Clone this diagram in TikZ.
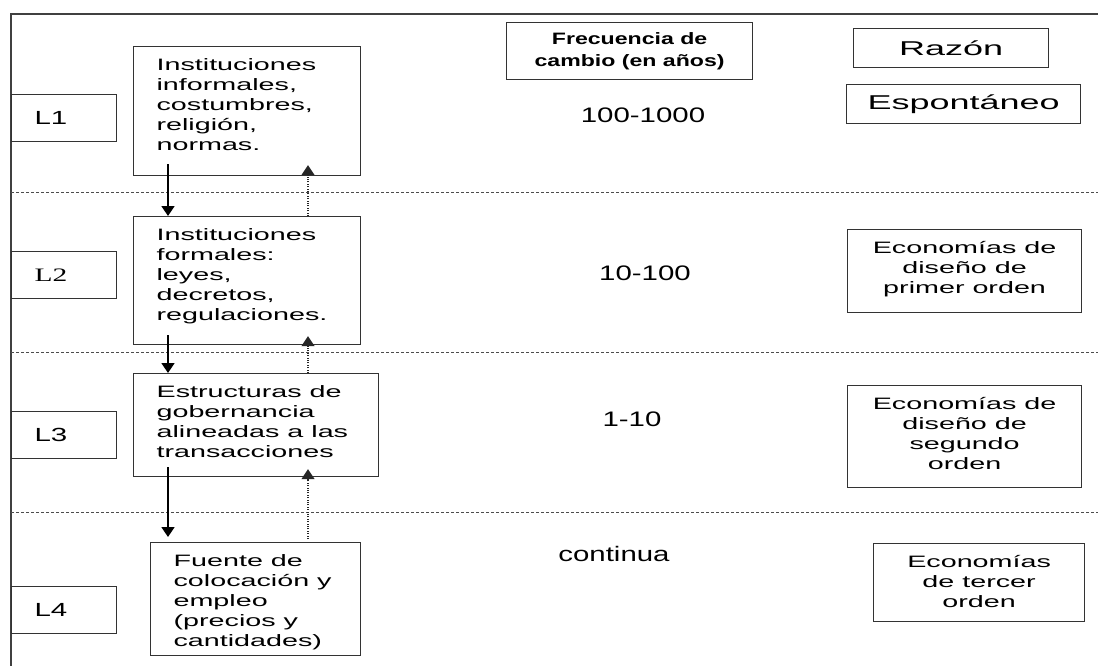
\documentclass[tikz,border=0pt]{standalone}
\usepackage{fontspec}
\setmainfont{Liberation Sans}
\newfontfamily\fA[FakeStretch=1.74]{Liberation Sans}
\newfontfamily\fB[FakeStretch=1.8]{Liberation Sans}
\newfontfamily\fN[FakeStretch=1.4]{Liberation Sans}
\newfontfamily\fH[FakeStretch=1.4]{Liberation Sans}
\newfontfamily\fL[FakeStretch=1.55]{Liberation Sans}
\newfontfamily\fS[FakeStretch=1.55]{Liberation Serif}
\usetikzlibrary{arrows.meta}
\newcommand{\tbox}[3]{\parbox[c][#1][t]{#2}{\fA\fontsize{16.5}{20}\selectfont #3}}
\begin{document}
\begin{tikzpicture}[x=1pt,y=-1pt,
  frame/.style={line width=1.3pt, draw=black!75},
  sep/.style={line width=0.9pt, draw=black!70, dash pattern=on 3pt off 2pt},
  bigbox/.style={draw=black!80, line width=1.2pt, anchor=north west, inner xsep=23pt, inner ysep=12pt, text=black},
  lbox/.style={draw=black!80, line width=1.2pt, anchor=north west, minimum height=47pt, text width=59pt, inner xsep=23pt, align=left, text=black, font=\fL\fontsize{19}{22}\selectfont},
  hbox/.style={draw=black!80, line width=1.2pt, anchor=north west, inner sep=0pt, align=center, text=black},
  num/.style={text=black, inner sep=0pt, font=\fN\fontsize{21}{24}\selectfont},
  downarr/.style={line width=1.6pt, draw=black, -{Triangle[width=13pt,length=10pt]}},
  uparr/.style={line width=1.1pt, draw=black!85, dash pattern=on 1pt off 1.4pt, -{Triangle[width=13pt,length=10pt]}}
]
\useasboundingbox (0,0) rectangle (1098,666);
\fill[white] (0,0) rectangle (1098,666);

% frame
\draw[frame] (1098,14) -- (11,14) -- (11,666);

% separators
\draw[sep] (11,192) -- (1098,192);
\draw[sep] (11,352) -- (1098,352);
\draw[sep] (11,512) -- (1098,512);

% level labels
\node[lbox] (L1) at (11,94) {L1};
\node[lbox] (L2) at (11,251) {\fS L2};
\node[lbox] (L3) at (11,411) {L3};
\node[lbox] (L4) at (11,586) {L4};

% institution boxes
\node[bigbox] (b1) at (133,46) {\tbox{105pt}{181pt}{\raggedright Instituciones\\informales,\\costumbres,\\religión,\\normas.}};
\node[bigbox] (b2) at (133,216) {\tbox{104pt}{181pt}{\raggedright Instituciones\\formales:\\leyes,\\decretos,\\regulaciones.}};
\node[bigbox] (b3) at (133,373) {\tbox{79pt}{199pt}{\raggedright Estructuras de\\gobernancia\\alineadas a las\\transacciones}};
\node[bigbox] (b4) at (150,542) {\tbox{89pt}{164pt}{\raggedright Fuente de\\colocación y\\empleo\\(precios y\\cantidades)}};

% header boxes
\node[hbox, minimum width=246pt, minimum height=57pt, font=\fH\bfseries\fontsize{16.5}{22}\selectfont] (hf) at (506,22)
  {Frecuencia de\\cambio (en años)};
\node[hbox, minimum width=195pt, minimum height=39pt, font=\fB\fontsize{20}{24}\selectfont] (hr) at (853,28)
  {Razón};
\node[hbox, minimum width=234pt, minimum height=39pt, font=\fB\fontsize{20}{24}\selectfont] (he) at (846,84)
  {Espontáneo};

% frequencies
\node[num] (n1) at (643,115) {100-1000};
\node[num] (n2) at (645,273) {10-100};
\node[num] (n3) at (632,419) {1-10};
\node[num] (n4) at (614,554) {continua};

% reason boxes
\node[bigbox] (ea) at (847,229) {\tbox{59pt}{188pt}{\centering Economías de\\diseño de\\primer orden}};
\node[bigbox] (eb) at (847,385) {\tbox{78pt}{188pt}{\centering Economías de\\diseño de\\segundo\\orden}};
\node[bigbox] (ec) at (873,543) {\tbox{54pt}{165pt}{\centering Economías\\de tercer\\orden}};

% downward solid arrows
\draw[downarr] ([xshift=35pt,yshift=12pt]b1.south west) -- ([xshift=35pt]b2.north west);
\draw[downarr] ([xshift=35pt,yshift=10pt]b2.south west) -- ([xshift=35pt]b3.north west);
\draw[downarr] ([xshift=35pt,yshift=10pt]b3.south west) -- ([xshift=18pt,yshift=5pt]b4.north west);

% upward dotted arrows
\draw[uparr] ([xshift=175pt]b2.north west) -- ([xshift=175pt,yshift=11pt]b1.south west);
\draw[uparr] ([xshift=175pt]b3.north west) -- ([xshift=175pt,yshift=9pt]b2.south west);
\draw[uparr] ([xshift=158pt,yshift=3pt]b4.north west) -- ([xshift=175pt,yshift=8pt]b3.south west);
\end{tikzpicture}
\end{document}
